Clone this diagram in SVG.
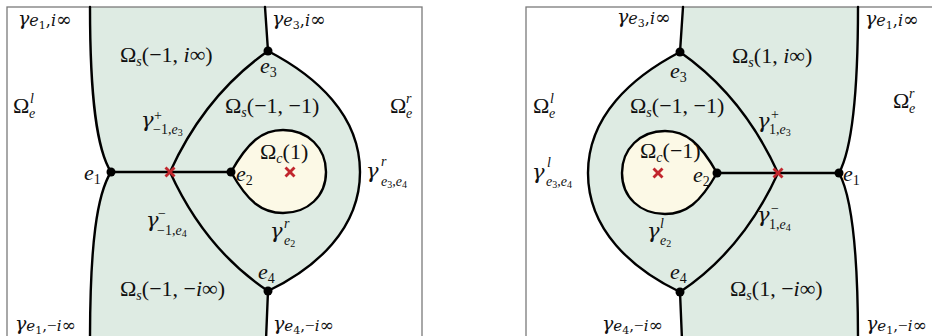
<svg xmlns="http://www.w3.org/2000/svg" width="932" height="336" viewBox="0 0 932 336" font-family="'Liberation Serif', 'DejaVu Serif', serif">
<style>
text{font-family:'Liberation Serif','DejaVu Serif',serif}
.lbl{font-size:22px;fill:#111}
.it{font-style:italic}
.s{font-size:14px}
.ss{font-size:10px}
.g{font-family:'DejaVu Serif',serif;font-style:italic;font-size:21px}
.cg{font-family:'DejaVu Serif',serif;font-size:16px;fill:#111}
.cg .gg{font-size:19px;font-style:italic}
.cg .m{font-family:'Liberation Serif',serif;font-size:17px}
.c{fill:none;stroke:#000;stroke-width:2.4;stroke-linejoin:round;stroke-linecap:round}
.frame{fill:none;stroke:#7a7a7a;stroke-width:1.3}
.green{fill:#deebe3}
.cream{fill:#fcf9e6;stroke:#000;stroke-width:2.4}
.dot{fill:#000}
.x{stroke:#c1272d;stroke-width:2.8}
</style>
<defs>
<g id="cross"><line class="x" x1="-4.5" y1="-4.5" x2="4.5" y2="4.5"/><line class="x" x1="-4.5" y1="4.5" x2="4.5" y2="-4.5"/></g>
</defs>
<rect width="932" height="336" fill="#fff"/>

<!-- LEFT PANEL -->
<g id="left-regions">
<path class="green" d="M90 7 L265 7 L268 51 C316 76 360 115 360 172 C360 229 316 268 268 291 L266 336 L90 336 C90 244 97 194 111 172 C97 150 90 100 90 7 Z"/>
<path id="omega-c-1" class="cream" d="M231 172 C248 142 262 130 283 130 C308 130 326 148 326 172 C326 196 308 213 283 213 C262 213 248 202 231 172 Z"/>
</g>
<rect class="frame" x="7" y="7" width="415" height="340"/>
<g id="left-connectors">
<path class="c" d="M90 7 C90 100 97 150 111 172 C97 194 90 244 90 340"/>
<path class="c" d="M111 172 H231"/>
<path class="c" d="M170 172 Q205 95 268 51"/>
<path class="c" d="M170 172 Q205 249 268 291"/>
<path class="c" d="M268 51 C316 76 360 115 360 172 C360 229 316 268 268 291"/>
<path class="c" d="M265 7 L268 51"/>
<path class="c" d="M268 291 L266 340"/>
</g>
<g id="L-e1"><circle class="dot" cx="111" cy="172" r="4.5"/><text class="lbl" x="84" y="180"><tspan class="it">e</tspan><tspan class="s" y="184">1</tspan></text></g>
<g id="L-e2"><circle class="dot" cx="231" cy="172" r="4.5"/><text class="lbl" x="236" y="181"><tspan class="it">e</tspan><tspan class="s" y="185">2</tspan></text></g>
<g id="L-e3"><circle class="dot" cx="268" cy="51" r="4.5"/><text class="lbl" x="260" y="73"><tspan class="it">e</tspan><tspan class="s" y="77">3</tspan></text></g>
<g id="L-e4"><circle class="dot" cx="268" cy="291" r="4.5"/><text class="lbl" x="258" y="279"><tspan class="it">e</tspan><tspan class="s" y="283">4</tspan></text></g>
<g id="L-x1"><use href="#cross" x="170" y="172"/></g>
<g id="L-x2"><use href="#cross" x="290" y="172"/></g>
<g id="left-labels">
<text class="cg" x="18" y="25"><tspan class="gg">γ</tspan><tspan font-style="italic" y="26">e</tspan><tspan font-size="11" y="29">1</tspan><tspan y="26">,</tspan><tspan font-style="italic">i</tspan><tspan font-size="19">∞</tspan></text>
<text class="cg" x="272" y="25"><tspan class="gg">γ</tspan><tspan font-style="italic" y="26">e</tspan><tspan font-size="11" y="29">3</tspan><tspan y="26">,</tspan><tspan font-style="italic">i</tspan><tspan font-size="19">∞</tspan></text>
<text class="lbl" x="120" y="62">Ω<tspan class="s it" y="66">s</tspan><tspan y="62">(−1, </tspan><tspan class="it">i</tspan>∞)</text>
<text class="lbl" x="225" y="113">Ω<tspan class="s it" y="117">s</tspan><tspan y="113">(−1, −1)</tspan></text>
<text class="lbl" x="390" y="113">Ω<tspan class="s it" x="406" y="118">e</tspan><tspan class="s it" x="406" y="103">r</tspan></text>
<text class="lbl" x="13" y="113">Ω<tspan class="s it" x="29" y="118">e</tspan><tspan class="s it" x="30" y="103">l</tspan></text>
<text class="lbl" x="141" y="127"><tspan class="g">γ</tspan><tspan class="s" x="154" y="120">+</tspan><tspan class="s" x="153" y="134">−1,</tspan><tspan class="s it">e</tspan><tspan class="ss" y="136">3</tspan></text>
<text class="lbl" x="146" y="227"><tspan class="g">γ</tspan><tspan class="s" x="158" y="218">−</tspan><tspan class="s" x="157" y="235">−1,</tspan><tspan class="s it">e</tspan><tspan class="ss" y="237">4</tspan></text>
<text class="lbl" x="260" y="159" font-size="19">Ω<tspan class="s it" y="163">c</tspan><tspan y="159">(1)</tspan></text>
<text class="lbl" x="366" y="178"><tspan class="g">γ</tspan><tspan class="s it" x="381" y="166">r</tspan><tspan class="s it" x="381" y="186">e</tspan><tspan class="ss" y="188">3</tspan><tspan class="s" y="186">,</tspan><tspan class="s it">e</tspan><tspan class="ss" y="188">4</tspan></text>
<text class="lbl" x="270" y="238"><tspan class="g">γ</tspan><tspan class="s it" x="284" y="228">r</tspan><tspan class="s it" x="284" y="245">e</tspan><tspan class="ss" y="247">2</tspan></text>
<text class="lbl" x="120" y="296">Ω<tspan class="s it" y="300">s</tspan><tspan y="296">(−1, −</tspan><tspan class="it">i</tspan>∞)</text>
<text class="cg" x="273" y="330"><tspan class="gg">γ</tspan><tspan font-style="italic" font-size="15" y="331">e</tspan><tspan font-size="11" y="334">4</tspan><tspan font-size="15" y="331">,</tspan><tspan class="m">−</tspan><tspan font-style="italic" font-size="15">i</tspan><tspan font-size="17">∞</tspan></text>
<text class="cg" x="15" y="330"><tspan class="gg">γ</tspan><tspan font-style="italic" font-size="15" y="331">e</tspan><tspan font-size="11" y="334">1</tspan><tspan font-size="15" y="331">,</tspan><tspan class="m">−</tspan><tspan font-style="italic" font-size="15">i</tspan><tspan font-size="17">∞</tspan></text>
</g>

<!-- RIGHT PANEL -->
<g id="right-regions">
<path class="green" d="M683 7 L680 52 C632 77 588 116 588 173 C588 230 632 269 680 292 L682 336 L858 336 C858 245 851 195 839 173 C851 151 858 101 858 7 Z"/>
<path id="omega-c-m1" class="cream" d="M717 173 C700 143 686 131 665 131 C640 131 622 149 622 173 C622 197 640 214 665 214 C686 214 700 203 717 173 Z"/>
</g>
<rect class="frame" x="526" y="7" width="420" height="340"/>
<g id="right-connectors">
<path class="c" d="M858 7 C858 101 851 151 839 173 C851 195 858 245 858 340"/>
<path class="c" d="M717 173 H839"/>
<path class="c" d="M778 173 Q743 96 680 52"/>
<path class="c" d="M778 173 Q743 250 680 292"/>
<path class="c" d="M680 52 C632 77 588 116 588 173 C588 230 632 269 680 292"/>
<path class="c" d="M683 7 L680 52"/>
<path class="c" d="M680 292 L682 340"/>
</g>
<g id="R-e1"><circle class="dot" cx="839" cy="173" r="4.5"/><text class="lbl" x="843" y="181"><tspan class="it">e</tspan><tspan class="s" y="185">1</tspan></text></g>
<g id="R-e2"><circle class="dot" cx="717" cy="173" r="4.5"/><text class="lbl" x="693" y="182"><tspan class="it">e</tspan><tspan class="s" y="186">2</tspan></text></g>
<g id="R-e3"><circle class="dot" cx="680" cy="52" r="4.5"/><text class="lbl" x="670" y="78"><tspan class="it">e</tspan><tspan class="s" y="82">3</tspan></text></g>
<g id="R-e4"><circle class="dot" cx="680" cy="292" r="4.5"/><text class="lbl" x="670" y="279"><tspan class="it">e</tspan><tspan class="s" y="283">4</tspan></text></g>
<g id="R-x1"><use href="#cross" x="778" y="173"/></g>
<g id="R-x2"><use href="#cross" x="658" y="173"/></g>
<g id="right-labels">
<text class="cg" x="617" y="23"><tspan class="gg">γ</tspan><tspan font-style="italic" y="24">e</tspan><tspan font-size="11" y="27">3</tspan><tspan y="24">,</tspan><tspan font-style="italic">i</tspan><tspan font-size="19">∞</tspan></text>
<text class="cg" x="865" y="25"><tspan class="gg">γ</tspan><tspan font-style="italic" y="26">e</tspan><tspan font-size="11" y="29">1</tspan><tspan y="26">,</tspan><tspan font-style="italic">i</tspan><tspan font-size="19">∞</tspan></text>
<text class="lbl" x="732" y="63">Ω<tspan class="s it" y="67">s</tspan><tspan y="63">(1, </tspan><tspan class="it">i</tspan>∞)</text>
<text class="lbl" x="630" y="113">Ω<tspan class="s it" y="117">s</tspan><tspan y="113">(−1, −1)</tspan></text>
<text class="lbl" x="533" y="113">Ω<tspan class="s it" x="549" y="118">e</tspan><tspan class="s it" x="550" y="103">l</tspan></text>
<text class="lbl" x="893" y="108">Ω<tspan class="s it" x="909" y="113">e</tspan><tspan class="s it" x="909" y="98">r</tspan></text>
<text class="lbl" x="757" y="128"><tspan class="g">γ</tspan><tspan class="s" x="771" y="119">+</tspan><tspan class="s" x="769" y="134">1,</tspan><tspan class="s it">e</tspan><tspan class="ss" y="136">3</tspan></text>
<text class="lbl" x="757" y="222"><tspan class="g">γ</tspan><tspan class="s" x="771" y="213">−</tspan><tspan class="s" x="769" y="229">1,</tspan><tspan class="s it">e</tspan><tspan class="ss" y="231">4</tspan></text>
<text class="lbl" x="640" y="158" font-size="18">Ω<tspan class="s it" y="162">c</tspan><tspan y="158">(−1)</tspan></text>
<text class="lbl" x="532" y="179"><tspan class="g">γ</tspan><tspan class="s it" x="547" y="167">l</tspan><tspan class="s it" x="546" y="186">e</tspan><tspan class="ss" y="188">3</tspan><tspan class="s" y="186">,</tspan><tspan class="s it">e</tspan><tspan class="ss" y="188">4</tspan></text>
<text class="lbl" x="647" y="238"><tspan class="g">γ</tspan><tspan class="s it" x="660" y="228">l</tspan><tspan class="s it" x="660" y="245">e</tspan><tspan class="ss" y="247">2</tspan></text>
<text class="lbl" x="730" y="296">Ω<tspan class="s it" y="300">s</tspan><tspan y="296">(1, −</tspan><tspan class="it">i</tspan>∞)</text>
<text class="cg" x="602" y="330"><tspan class="gg">γ</tspan><tspan font-style="italic" font-size="15" y="331">e</tspan><tspan font-size="11" y="334">4</tspan><tspan font-size="15" y="331">,</tspan><tspan class="m">−</tspan><tspan font-style="italic" font-size="15">i</tspan><tspan font-size="17">∞</tspan></text>
<text class="cg" x="866" y="330"><tspan class="gg">γ</tspan><tspan font-style="italic" font-size="15" y="331">e</tspan><tspan font-size="11" y="334">1</tspan><tspan font-size="15" y="331">,</tspan><tspan class="m">−</tspan><tspan font-style="italic" font-size="15">i</tspan><tspan font-size="17">∞</tspan></text>
</g>
</svg>
